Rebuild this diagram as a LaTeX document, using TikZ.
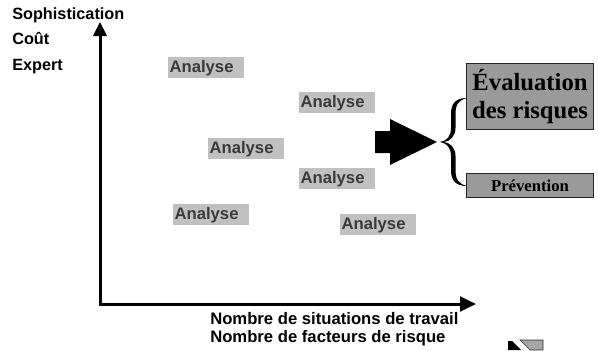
\documentclass[tikz,border=0pt]{standalone}
\usepackage{fontspec}
\usepackage{tikz}
\usetikzlibrary{arrows.meta, positioning, calc}
\newfontfamily\arialf{Liberation Sans}
\newfontfamily\timesf{Liberation Serif}
\definecolor{agray}{HTML}{C0C0C0}
\definecolor{atext}{HTML}{3A3A3A}
\definecolor{bgray}{HTML}{9A9A9A}
\tikzset{
  anbox/.style={rectangle, fill=agray, text=atext, anchor=north west, inner xsep=1pt, inner ysep=0pt,
                text width=55pt, minimum height=15.75pt, align=left,
                font=\arialf\bfseries\fontsize{12.5}{14}\selectfont},
  ylab/.style={anchor=base west, inner sep=0pt, font=\arialf\bfseries\fontsize{12.2}{14}\selectfont},
  xlab/.style={anchor=base west, inner sep=0pt, font=\arialf\bfseries\fontsize{12.5}{14}\selectfont},
  rbox/.style={rectangle, draw=black!85, line width=0.8pt, fill=bgray, anchor=north west,
               inner sep=0pt, minimum width=95.25pt, align=center},
  axisline/.style={{Triangle[length=10.5pt, width=10pt]}-{Triangle[length=12pt, width=11pt]},
                   line width=2.25pt, line join=miter}
}

\begin{document}
\begin{tikzpicture}[x=0.75pt, y=-0.75pt]
  \useasboundingbox (0,0) rectangle (598,350);

  % axes
  \coordinate (ytop) at (100,22);
  \coordinate (orig) at (100,304);
  \coordinate (xend) at (476,304);
  \draw[axisline] (ytop) -- (orig) -- (xend);

  \node[ylab] (soph) at (12,19) {Sophistication};
  \node[ylab] (cout) at (12,44) {Coût};
  \node[ylab] (expert) at (12,70) {Expert};
  \node[xlab] (nbsit) at (210,324) {Nombre de situations de travail};
  \node[xlab] (nbfac) at (210,342) {Nombre de facteurs de risque};

  % analyses
  \node[anbox] (an1) at (168,57) {Analyse};
  \node[anbox] (an2) at (299,92) {Analyse};
  \node[anbox] (an3) at (208,138) {Analyse};
  \node[anbox] (an4) at (299,168) {Analyse};
  \node[anbox] (an5) at (173,204) {Analyse};
  \node[anbox] (an6) at (340,214) {Analyse};

  % big arrow
  \fill (375,131) -- (390,131) -- (390,119) -- (437,142) -- (390,165) -- (390,153) -- (375,153) -- cycle;

  \node[rbox, minimum height=49.5pt, font=\timesf\bfseries\fontsize{18.5}{21}\selectfont]
    (evalr) at (466,63) {Évaluation\\des risques};
  \node[rbox, minimum height=18pt, font=\timesf\bfseries\fontsize{12.5}{14}\selectfont]
    (prev) at (466,173) {Prévention};

  % brace
  \fill (467,98) .. controls (455,98) and (451,104) .. (451,114) -- (451,128)
    .. controls (451,136) and (447,141) .. (440,142)
    .. controls (447,143) and (451,148) .. (451,156) -- (451,170)
    .. controls (451,180) and (455,186) .. (467,186)
    .. controls (459,184) and (455.5,180) .. (455.5,170) -- (455.5,156)
    .. controls (455.5,148) and (450,142.5) .. (444,142)
    .. controls (450,141.5) and (455.5,136) .. (455.5,128) -- (455.5,114)
    .. controls (455.5,104) and (459,100) .. (467,98) -- cycle;

  % corner icon
  \fill (508,341) -- (512,341) -- (521,350) -- (508,350) -- cycle;
  \filldraw[fill=gray!70, draw=black!80] (520,340) -- (543,340) -- (543,350) -- (530,350) -- cycle;
\end{tikzpicture}
\end{document}
